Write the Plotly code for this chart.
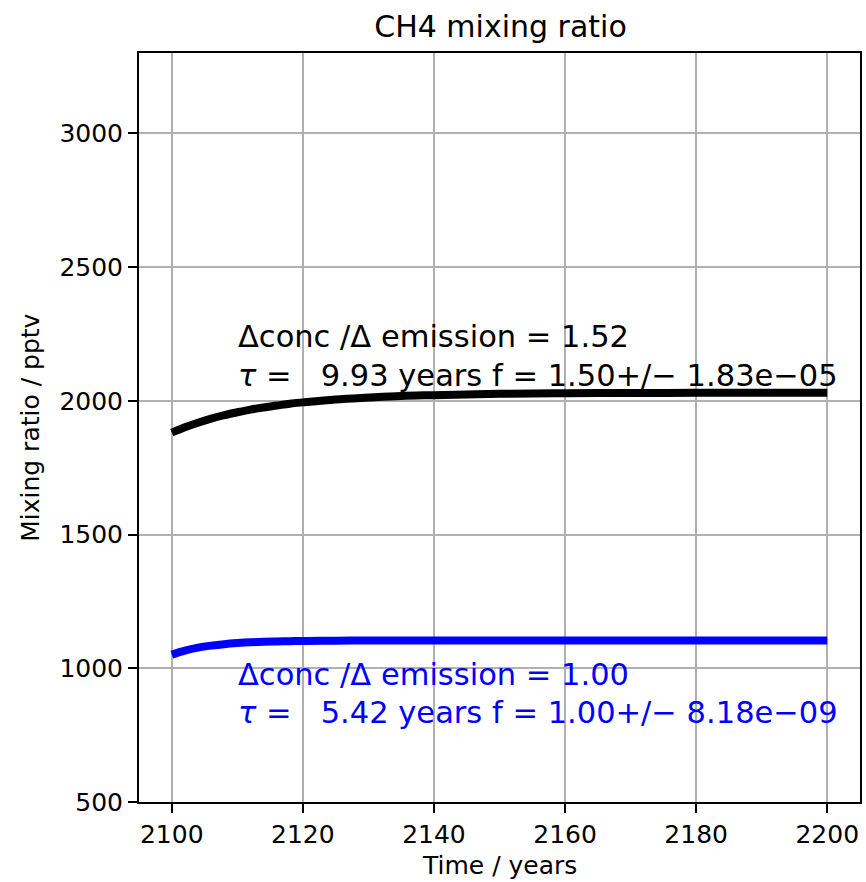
import plotly.graph_objects as go

# Data
years = [2100, 2102, 2104, 2106, 2108, 2110, 2112, 2114, 2116, 2118, 2120,
         2125, 2130, 2135, 2140, 2150, 2160, 2170, 2180, 2190, 2200]
ch4_black = [1881, 1901, 1918, 1933, 1946, 1957, 1967, 1975, 1982, 1989, 1994,
             2005, 2012, 2018, 2021, 2026, 2028, 2029, 2029.5, 2030, 2030]
ch4_blue = [1051, 1066, 1077, 1084.5, 1090, 1094, 1097, 1099, 1100.3, 1101.4, 1102,
            1103.2, 1103.6, 1103.8, 1103.9, 1104, 1104, 1104, 1104, 1104, 1104]

title_text = "CH4 mixing ratio"
xlabel = "Time / years"
ylabel = "Mixing ratio / pptv"
x_ticks = [2100, 2120, 2140, 2160, 2180, 2200]
y_ticks = [500, 1000, 1500, 2000, 2500, 3000]

NB = "\u00a0"
MINUS = "\u2212"
black_text = ["\u0394conc /\u0394 emission = 1.52",
              "<i>\u03c4</i> =" + NB * 3 + "9.93 years f = 1.50+/" + MINUS + " 1.83e" + MINUS + "05"]
blue_text = ["\u0394conc /\u0394 emission = 1.00",
             "<i>\u03c4</i> =" + NB * 3 + "5.42 years f = 1.00+/" + MINUS + " 8.18e" + MINUS + "09"]
black_text_y = [2240, 2096]
blue_text_y = [975, 834]
text_x = 2110

FONT = "DejaVu Sans"

fig = go.Figure()
fig.add_trace(go.Scatter(x=years, y=ch4_black, mode="lines",
                         line=dict(color="black", width=8, shape="spline"),
                         showlegend=False))
fig.add_trace(go.Scatter(x=years, y=ch4_blue, mode="lines",
                         line=dict(color="#0000ff", width=8, shape="spline"),
                         showlegend=False))

for t, yv in zip(black_text, black_text_y):
    fig.add_annotation(x=text_x, y=yv, xref="x", yref="y", text=t, showarrow=False,
                       xanchor="left", yanchor="middle", xshift=-1,
                       font=dict(family=FONT, size=30.5, color="black"))
for t, yv in zip(blue_text, blue_text_y):
    fig.add_annotation(x=text_x, y=yv, xref="x", yref="y", text=t, showarrow=False,
                       xanchor="left", yanchor="middle", xshift=-1,
                       font=dict(family=FONT, size=30.5, color="#0000ff"))

# axis titles
fig.add_annotation(x=(30 - 139) / 723, y=0.5, xref="paper", yref="paper", text=ylabel,
                   showarrow=False, textangle=-90, xanchor="center", yanchor="middle",
                   font=dict(family=FONT, size=25, color="black"))
fig.add_annotation(x=0.5, y=(802 - 866) / 749, xref="paper", yref="paper", text=xlabel,
                   showarrow=False, xanchor="center", yanchor="middle",
                   font=dict(family=FONT, size=25, color="black"))

fig.update_layout(
    width=866, height=882,
    margin=dict(l=139, r=4, t=53, b=80),
    paper_bgcolor="white", plot_bgcolor="white",
    font=dict(family=FONT, size=25, color="black"),
    title=dict(text=title_text, x=(139 + 862) / 2 / 866, xanchor="center",
               y=(882 - 26) / 882, yanchor="middle", yref="container",
               font=dict(family=FONT, size=30, color="black")),
)
axis_common = dict(showline=True, mirror=True, linecolor="black", linewidth=2,
                   ticks="outside", ticklen=9, tickwidth=2, tickcolor="black",
                   showgrid=True, gridcolor="#b0b0b0", gridwidth=2, zeroline=False,
                   tickfont=dict(family=FONT, size=25, color="black"))
fig.update_xaxes(range=[2095, 2205], tickvals=x_ticks, **axis_common)
fig.update_yaxes(range=[500, 3300], tickvals=y_ticks, **axis_common)

fig.write_html("out.html")
